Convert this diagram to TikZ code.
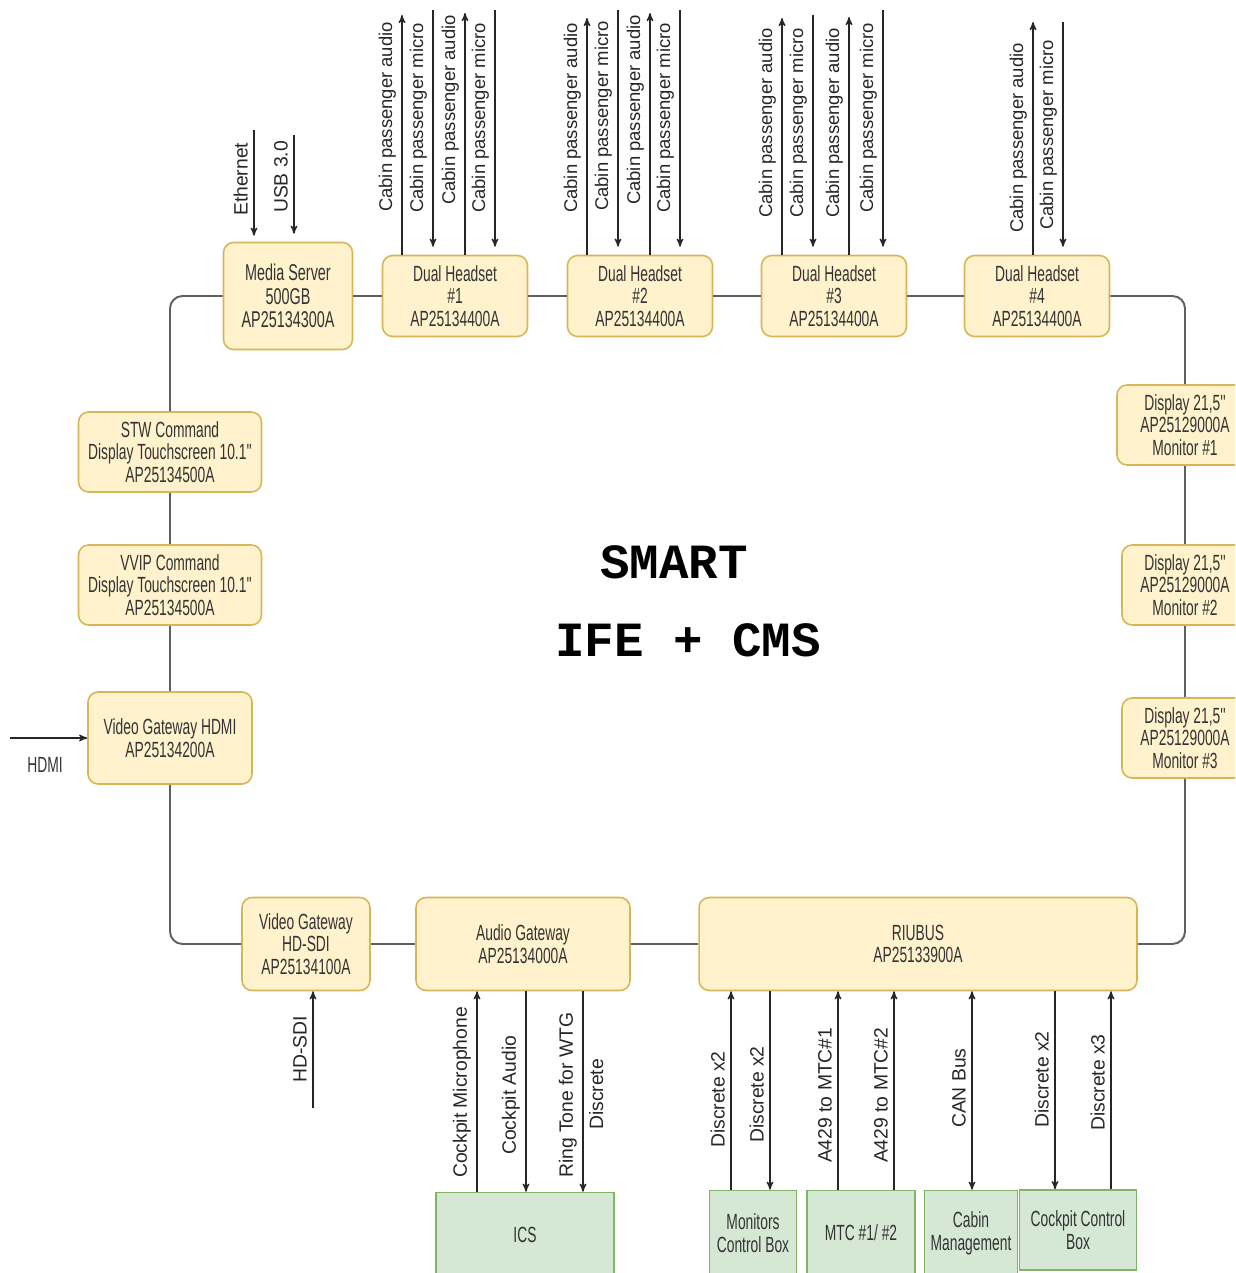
\documentclass[tikz,border=0pt]{standalone}
\usepackage{fontspec}
\usepackage{xcolor}
\usepackage{tikz}
\usetikzlibrary{arrows, positioning}
\setmainfont{Liberation Sans}
\newfontfamily\boxfont[FakeStretch=0.63]{Liberation Sans}
\newfontfamily\titlefont{Liberation Mono}
\definecolor{unitfill}{HTML}{FFF2CC}
\definecolor{unitline}{HTML}{D6B656}
\definecolor{extfill}{HTML}{D5E8D4}
\definecolor{extline}{HTML}{82B366}
\definecolor{busline}{HTML}{5F5F5F}
\tikzset{
	>=stealth', % arrow heads
	x=0.02cm, y=-0.02cm, % one unit is one pixel of the sketch, y going down
	unit/.style={draw=unitline, fill=unitfill, line width=0.9pt, rounded corners=0.2cm, align=center, text=black!80, inner sep=1pt, font=\boxfont\fontsize{12.5}{13}\selectfont}, % yellow equipment boxes
	headset/.style={unit, minimum width=2.9cm, minimum height=1.62cm}, % dual headsets
	command/.style={unit, minimum width=3.66cm, minimum height=1.6cm}, % touchscreens
	display/.style={unit, minimum width=2.52cm, minimum height=1.6cm}, % monitors on the right
	ext/.style={draw=extline, fill=extfill, line width=0.9pt, align=center, text=black!80, inner sep=1pt, font=\boxfont\fontsize{12.5}{13}\selectfont}, % green outside systems
	bus/.style={draw=busline, line width=1.1pt, rounded corners=0.25cm}, % the ring
	sig/.style={draw=black!85, line width=0.7pt}, % signal arrows
	siglabel/.style={rotate=90, anchor=south west, inner sep=1pt, text=black!85, font=\fontsize{11}{12}\selectfont}, % text along a signal
	hslabel/.style={font=\fontsize{10.5}{12}\selectfont}, % headset signals are a bit smaller
}

\begin{document}
\begin{tikzpicture}
	\useasboundingbox (0,0) rectangle (1235,1273);
	\clip (0,0) rectangle (1235,1273);

	% top row
	\node[unit, minimum width=2.58cm, minimum height=2.14cm, font=\boxfont\fontsize{13}{13.5}\selectfont] (ms) at (288,296) {Media Server\\500GB\\AP25134300A};
	\node[headset] (dh1) at (455,296) {Dual Headset\\\#1\\AP25134400A};
	\node[headset] (dh2) at (640,296) {Dual Headset\\\#2\\AP25134400A};
	\node[headset] (dh3) at (834,296) {Dual Headset\\\#3\\AP25134400A};
	\node[headset] (dh4) at (1037,296) {Dual Headset\\\#4\\AP25134400A};

	% left column
	\node[command] (stw) at (170,452) {STW Command\\Display Touchscreen 10.1''\\AP25134500A};
	\node[command] (vvip) at (170,585) {VVIP Command\\Display Touchscreen 10.1''\\AP25134500A};
	\node[unit, minimum width=3.28cm, minimum height=1.84cm] (vghdmi) at (170,738) {Video Gateway HDMI\\AP25134200A};

	% right column
	\node[display, minimum width=2.72cm] (disp1) at (1185,425) {Display 21,5''\\AP25129000A\\Monitor \#1};
	\node[display] (disp2) at (1185,585) {Display 21,5''\\AP25129000A\\Monitor \#2};
	\node[display] (disp3) at (1185,738) {Display 21,5''\\AP25129000A\\Monitor \#3};

	% bottom row
	\node[unit, minimum width=2.56cm, minimum height=1.86cm] (vgsdi) at (306,944) {Video Gateway\\HD-SDI\\AP25134100A};
	\node[unit, minimum width=4.28cm, minimum height=1.86cm] (agw) at (523,944) {Audio Gateway\\AP25134000A};
	\node[unit, minimum width=8.76cm, minimum height=1.86cm] (riu) at (918,944) {RIUBUS\\AP25133900A};

	% outside systems
	\node[ext, minimum width=3.56cm, minimum height=1.7cm] (ics) at (525,1235) {ICS};
	\node[ext, minimum width=1.74cm, minimum height=1.7cm] (mcb) at (753,1233) {Monitors\\Control Box};
	\node[ext, minimum width=2.16cm, minimum height=1.7cm] (mtc) at (861,1233) {MTC \#1/ \#2};
	\node[ext, minimum width=1.86cm, minimum height=1.7cm] (cab) at (971,1233) {Cabin\\Management};
	\node[ext, minimum width=2.34cm, minimum height=1.6cm] (ccb) at (1078,1230) {Cockpit Control\\Box};

	% title
	\node[font=\titlefont\bfseries\fontsize{28}{30}\selectfont] (title1) at (674,562) {SMART};
	\node[font=\titlefont\bfseries\fontsize{28}{30}\selectfont] (title2) at (688,640) {IFE + CMS};

	% the ring
	\draw[bus] (ms.west) -| (stw.north);
	\draw[bus] (stw) -- (vvip);
	\draw[bus] (vvip) -- (vghdmi);
	\draw[bus] (vghdmi.south) |- (vgsdi.west);
	\draw[bus] (vgsdi) -- (agw);
	\draw[bus] (agw) -- (riu);
	\draw[bus] (riu.east) -| (disp3.south);
	\draw[bus] (disp3) -- (disp2);
	\draw[bus] (disp2) -- (disp1);
	\draw[bus] (disp1.north) |- (dh4.east);
	\draw[bus] (ms) -- (dh1);
	\draw[bus] (dh1) -- (dh2);
	\draw[bus] (dh2) -- (dh3);
	\draw[bus] (dh3) -- (dh4);

	% media server inputs
	\coordinate (eth) at (254,130);
	\coordinate (usb) at (294,135);
	\draw[sig,->, shorten >=0.12cm] (eth) -- (ms.north -| eth);
	\draw[sig,->, shorten >=0.16cm] (usb) -- (ms.north -| usb);
	\node[siglabel] (labeth) at (250,218) {Ethernet};
	\node[siglabel] (labusb) at (290,215) {USB 3.0};

	% headset audio out
	\foreach \x/\hs/\yt/\yl in {402/dh1/15/214, 465/dh1/13/207, 587/dh2/18/215, 650/dh2/13/207, 782/dh3/18/220, 849/dh3/17/220, 1033/dh4/22/235}
	{
		\coordinate (up\x) at (\x,\yt);
		\draw[sig,->] (\hs.north -| up\x) -- (up\x);
		\node[siglabel, hslabel] (lab\x) at (\x-4,\yl) {Cabin passenger audio};
	}
	% headset micro in
	\foreach \x/\hs/\yt/\yl in {433/dh1/10/215, 495/dh1/10/215, 618/dh2/10/213, 680/dh2/10/215, 813/dh3/15/220, 883/dh3/10/215, 1063/dh4/22/232}
	{
		\coordinate (dn\x) at (\x,\yt);
		\draw[sig,->, shorten >=0.16cm] (dn\x) -- (\hs.north -| dn\x);
		\node[siglabel, hslabel] (lab\x) at (\x-4,\yl) {Cabin passenger micro};
	}

	% video inputs
	\coordinate (hdmiin) at (10,738);
	\draw[sig,->] (hdmiin) -- (vghdmi.west);
	\node[font=\boxfont\fontsize{12.5}{13}\selectfont, text=black!80] (labhdmi) at (45,765) {HDMI};
	\coordinate (sdiin) at (313,1108);
	\draw[sig,->] (sdiin) -- (vgsdi.south -| sdiin);
	\node[siglabel] (labsdi) at (309,1085) {HD-SDI};

	% signals going up into the gateways
	\foreach \x/\dev/\gw/\yl/\txt in {477/ics/agw/1180/Cockpit Microphone, 731/mcb/riu/1150/Discrete x2, 838/mtc/riu/1165/A429 to MTC\#1, 894/mtc/riu/1165/A429 to MTC\#2, 1111/ccb/riu/1133/Discrete x3}
	{
		\coordinate (sx\x) at (\x,1100);
		\draw[sig,->] (\dev.north -| sx\x) -- (\gw.south -| sx\x);
		\node[siglabel] (lab\x) at (\x-4,\yl) {\txt};
	}
	% signals going down out of the gateways
	\foreach \x/\dev/\gw/\yl/\txt in {526/ics/agw/1157/Cockpit Audio, 583/ics/agw/1180/Ring Tone for WTG, 770/mcb/riu/1145/Discrete x2, 1055/ccb/riu/1130/Discrete x2}
	{
		\coordinate (sx\x) at (\x,1100);
		\draw[sig,->] (\gw.south -| sx\x) -- (\dev.north -| sx\x);
		\node[siglabel] (lab\x) at (\x-4,\yl) {\txt};
	}
	\node[siglabel, anchor=north west] (labdisc) at (587,1132) {Discrete};
	% CAN bus both ways
	\coordinate (sxcan) at (972,1100);
	\draw[sig,<->] (cab.north -| sxcan) -- (riu.south -| sxcan);
	\node[siglabel] (labcan) at (968,1130) {CAN Bus};
\end{tikzpicture}
\end{document}
